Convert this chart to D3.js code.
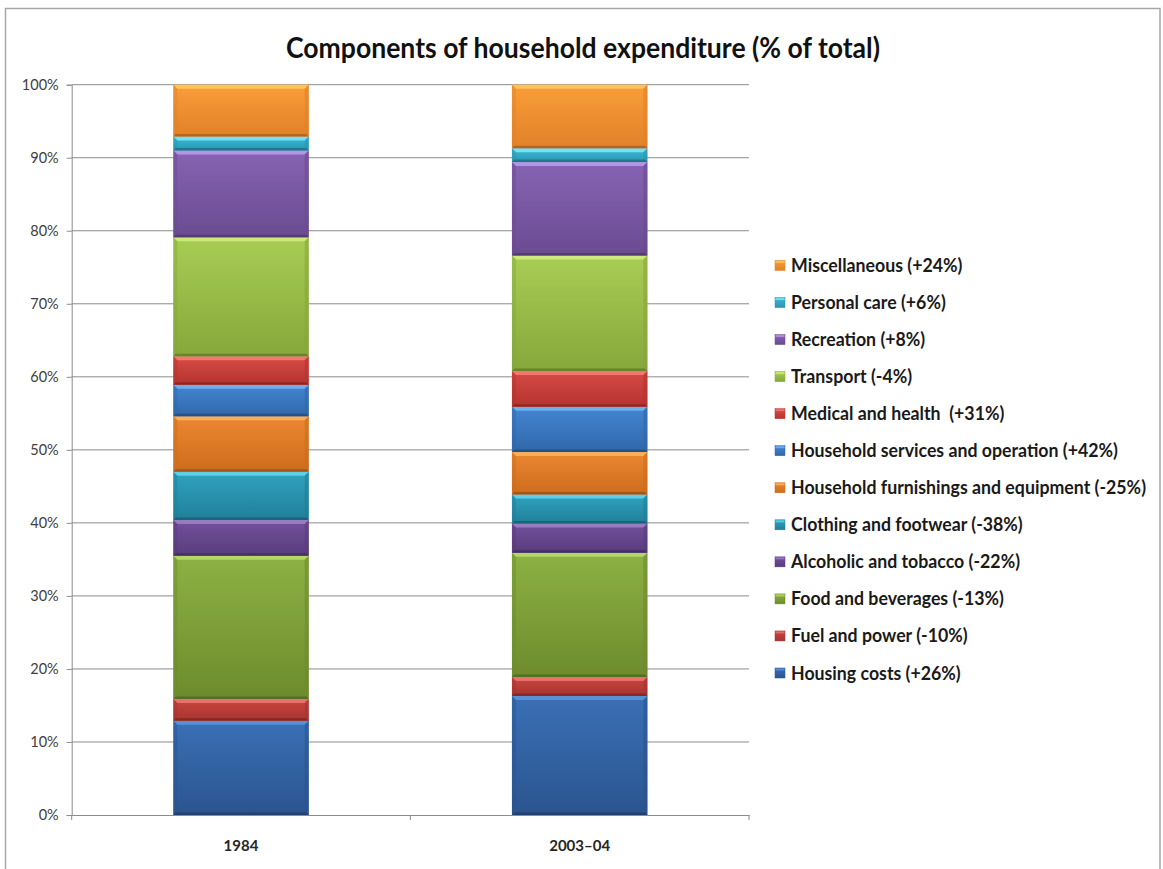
<!DOCTYPE html>
<html>
<head>
<meta charset="utf-8">
<script src="https://cdn.jsdelivr.net/npm/d3@7"></script>
<style>
  html, body { margin: 0; padding: 0; background: #fff; }
  svg { display: block; }
  text { white-space: pre; }
</style>
</head>
<body>
<svg id="chart" width="1163" height="869"></svg>
<script>
// ---------------- DATA ----------------
const categories = ["1984", "2003\u201304"];
// series in stacking order (bottom to top)
const seriesNames = [
  "Housing costs (+26%)",
  "Fuel and power (-10%)",
  "Food and beverages (-13%)",
  "Alcoholic and tobacco (-22%)",
  "Clothing and footwear (-38%)",
  "Household furnishings and equipment (-25%)",
  "Household services and operation (+42%)",
  "Medical and health  (+31%)",
  "Transport (-4%)",
  "Recreation (+8%)",
  "Personal care (+6%)",
  "Miscellaneous (+24%)"
];
const values1984 = [12.9, 3.0, 19.6, 4.9, 6.6, 7.6, 4.3, 3.9, 16.3, 11.9, 1.9, 7.1];
const values2003 = [16.3, 2.6, 17.0, 4.0, 4.0, 5.8, 6.2, 4.9, 15.8, 12.8, 1.9, 8.7];
const yTicks = [0, 10, 20, 30, 40, 50, 60, 70, 80, 90, 100];
const titleText = "Components of household expenditure (% of total)";

// ---------------- STYLES ----------------
// [gradient top, gradient bottom, highlight]
const seriesColors = [
  ["#3a70b6", "#2b548e", "#5d93d8"],
  ["#c9453f", "#a73431", "#ec7670"],
  ["#8db143", "#6d8b2d", "#b8da6c"],
  ["#72519c", "#583c7c", "#9d80c8"],
  ["#30a3c0", "#207f98", "#62d5ec"],
  ["#ec8731", "#cd6c1d", "#f9b462"],
  ["#4386d2", "#3167aa", "#72b2f2"],
  ["#d74b45", "#b5332f", "#f57c75"],
  ["#a8cd54", "#86a73b", "#d0ec80"],
  ["#8764b4", "#6a4b90", "#b999ec"],
  ["#3dbad8", "#2a96af", "#78e6fa"],
  ["#f99d39", "#e28129", "#fdc65f"]
];
const FONT = "Lato, 'Liberation Sans', sans-serif";

// ---------------- LAYOUT ----------------
const svg = d3.select("#chart");
const plot = { left: 71.7, right: 749, top: 84.7, bottom: 815 };

const defs = svg.append("defs");
seriesColors.forEach((c, i) => {
  const g = defs.append("linearGradient").attr("id", "grad" + i)
    .attr("x1", 0).attr("y1", 0).attr("x2", 0).attr("y2", 1);
  g.append("stop").attr("offset", "0%").attr("stop-color", c[0]);
  g.append("stop").attr("offset", "100%").attr("stop-color", c[1]);
});

// chart frame
svg.append("rect")
  .attr("x", 5.5).attr("y", 8.5).attr("width", 1154.5).attr("height", 900)
  .attr("fill", "#fff").attr("stroke", "#a6a6a6").attr("stroke-width", 1.5);

const y = d3.scaleLinear().domain([0, 100]).range([plot.bottom, plot.top]);
const x = d3.scaleBand().domain(categories).range([plot.left, plot.right])
  .paddingInner(0.6).paddingOuter(0.3);

// gridlines
svg.append("g").selectAll("line").data(yTicks.filter(d => d > 0)).join("line")
  .attr("x1", plot.left).attr("x2", plot.right)
  .attr("y1", d => y(d)).attr("y2", d => y(d))
  .attr("stroke", "#8c8c8c").attr("stroke-width", 1);

// y axis
const yAxis = svg.append("g").attr("transform", `translate(${plot.left},0)`)
  .call(d3.axisLeft(y).tickValues(yTicks).tickSize(5).tickPadding(8).tickFormat(d => d + "%"));
yAxis.select(".domain").attr("stroke", "#8c8c8c");
yAxis.selectAll(".tick line").attr("stroke", "#8c8c8c");
yAxis.selectAll(".tick text").attr("font-family", FONT).attr("font-size", 14.5)
  .attr("fill", "#404040");

// stacked data
const table = categories.map((c, ci) => {
  const row = { category: c };
  const vals = ci === 0 ? values1984 : values2003;
  seriesNames.forEach((s, si) => { row[s] = vals[si]; });
  return row;
});
const stacked = d3.stack().keys(seriesNames)(table);

const bars = svg.append("g");
stacked.forEach((layer, si) => {
  const col = seriesColors[si];
  layer.forEach(seg => {
    const x0 = x(seg.data.category), x1 = x0 + x.bandwidth();
    const yt = y(seg[1]), yb = y(seg[0]);
    const h = yb - yt;
    const g = bars.append("g");
    g.append("rect").attr("x", x0).attr("y", yt).attr("width", x1 - x0).attr("height", h)
      .attr("fill", `url(#grad${si})`);
    const b = Math.min(4, h / 3);
    // top highlight bevel
    g.append("polygon")
      .attr("points", [[x0, yt], [x1, yt], [x1 - b, yt + b], [x0 + b, yt + b]].map(p => p.join(",")).join(" "))
      .attr("fill", col[2]).attr("opacity", 0.9);
    // side shades
    g.append("polygon")
      .attr("points", [[x0, yt], [x0 + b, yt + b], [x0 + b, yb - b], [x0, yb]].map(p => p.join(",")).join(" "))
      .attr("fill", col[1]).attr("opacity", 0.45);
    g.append("polygon")
      .attr("points", [[x1, yt], [x1 - b, yt + b], [x1 - b, yb - b], [x1, yb]].map(p => p.join(",")).join(" "))
      .attr("fill", col[1]).attr("opacity", 0.6);
    // bottom shade
    const bb = Math.min(2.5, h / 4);
    g.append("polygon")
      .attr("points", [[x0, yb], [x1, yb], [x1 - bb, yb - bb], [x0 + bb, yb - bb]].map(p => p.join(",")).join(" "))
      .attr("fill", d3.color(col[1]).darker(0.8)).attr("opacity", 0.85);
  });
});

// x axis
const xAxis = svg.append("g").attr("transform", `translate(0,${plot.bottom})`)
  .call(d3.axisBottom(x).tickSize(0).tickPadding(25));
xAxis.select(".domain").attr("stroke", "#8c8c8c");
xAxis.selectAll(".tick text").attr("font-family", FONT).attr("font-size", 15)
  .attr("font-weight", "bold").attr("fill", "#262626");
const sepTicks = [plot.left, (x(categories[0]) + x.bandwidth() + x(categories[1])) / 2, plot.right];
svg.append("g").selectAll("line").data(sepTicks).join("line")
  .attr("x1", d => d).attr("x2", d => d)
  .attr("y1", plot.bottom).attr("y2", plot.bottom + 5)
  .attr("stroke", "#8c8c8c");

// title
const title = svg.append("text")
  .attr("x", 583).attr("y", 58).attr("text-anchor", "middle")
  .attr("font-family", FONT).attr("font-size", 29).attr("font-weight", "bold")
  .attr("fill", "#111").text(titleText);
title.attr("textLength", 594).attr("lengthAdjust", "spacingAndGlyphs");

// legend (top to bottom = reverse stack order)
const legendItems = seriesNames.map((s, i) => ({ name: s, idx: i })).reverse();
const legY = d3.scalePoint().domain(legendItems.map(d => d.name)).range([265.5, 673]);
const leg = svg.append("g");
const rows = leg.selectAll("g").data(legendItems).join("g")
  .attr("transform", d => `translate(775,${legY(d.name)})`);
rows.append("rect").attr("x", 0).attr("y", -5).attr("width", 10).attr("height", 10)
  .attr("fill", d => `url(#grad${d.idx})`).attr("stroke", d => seriesColors[d.idx][1]).attr("stroke-width", 0.5);
rows.append("rect").attr("x", 0.5).attr("y", -4.5).attr("width", 9).attr("height", 2)
  .attr("fill", d => seriesColors[d.idx][2]).attr("opacity", 0.8);
const labels = rows.append("text").attr("x", 16).attr("y", 6.5)
  .attr("font-family", FONT).attr("font-size", 18.5).attr("font-weight", "bold")
  .attr("fill", "#1a1a1a").text(d => d.name);
{
  let maxW = 0;
  labels.each(function () { maxW = Math.max(maxW, this.getComputedTextLength()); });
  const k = 355 / maxW;
  labels.each(function () {
    const w = this.getComputedTextLength();
    d3.select(this).attr("textLength", w * k).attr("lengthAdjust", "spacingAndGlyphs");
  });
}
</script>
</body>
</html>
